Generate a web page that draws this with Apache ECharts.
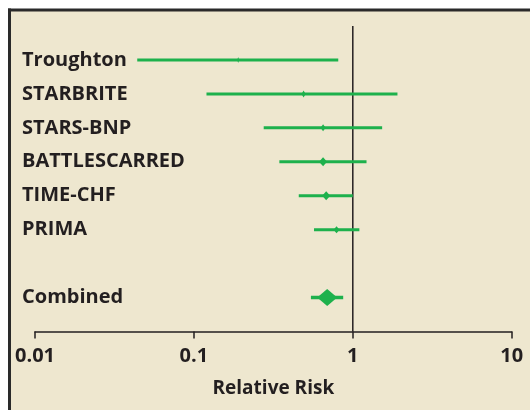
<!DOCTYPE html>
<html>
<head>
<meta charset="utf-8">
<script src="https://cdn.jsdelivr.net/npm/echarts@6/dist/echarts.min.js"></script>
<style>
  html, body { margin: 0; padding: 0; background: #ffffff; overflow: hidden; }
  #chart { width: 530px; height: 410px; }
</style>
</head>
<body>
<div id="chart"></div>
<script>
// Individual trials: relative risk with 95% confidence limits
const studies = ['Troughton', 'STARBRITE', 'STARS-BNP', 'BATTLESCARRED', 'TIME-CHF', 'PRIMA'];
const relativeRisk = [0.19, 0.49, 0.65, 0.65, 0.68, 0.79];
const lowerCI = [0.044, 0.12, 0.275, 0.345, 0.457, 0.57];
const upperCI = [0.81, 1.91, 1.53, 1.22, 1.0, 1.10];

// Pooled estimate
const combinedLabel = 'Combined';
const combinedRR = [0.69];
const combinedLower = [0.545];
const combinedUpper = [0.87];

// Log-scale axis ticks
const xTicks = [0.01, 0.1, 1, 10];
const axisTitle = 'Relative Risk';

// Marker half-sizes (width, height) for each study point, then the pooled diamond
const markerHalf = [[1, 3], [2, 3.5], [2.5, 3.5], [4, 4.5], [4, 4.5], [3, 3.5]];
const pooledHalf = [10, 8.5];

const INK = '#231f20';
const GREEN = '#1db14c';
const FONT = '"Open Sans", "DejaVu Sans", sans-serif';
const WEIGHT = 'bold';

// Category rows: blank row on top, studies, spacer, pooled row, blank row at the axis
const rows = [''].concat(studies, [''], [combinedLabel], ['']);

const intervalData = studies.map((s, i) => [lowerCI[i], upperCI[i], relativeRisk[i], i + 1, 0, i]);
combinedRR.forEach((v, j) => {
  intervalData.push([combinedLower[j], combinedUpper[j], v, rows.indexOf(combinedLabel), 1, j]);
});

// Confidence interval as a horizontal bar with a diamond at the point estimate
function renderInterval(params, api) {
  const row = api.value(3);
  const lo = api.coord([api.value(0), row]);
  const hi = api.coord([api.value(1), row]);
  const pt = api.coord([api.value(2), row]);
  const pooled = api.value(4) === 1;
  const half = pooled ? pooledHalf : markerHalf[api.value(5)];
  return {
    type: 'group',
    children: [
      {
        type: 'line',
        shape: { x1: lo[0], y1: lo[1], x2: hi[0], y2: hi[1] },
        style: { stroke: GREEN, lineWidth: pooled ? 3.5 : 3 }
      },
      {
        type: 'polygon',
        shape: {
          points: [
            [pt[0] - half[0], pt[1]],
            [pt[0], pt[1] - half[1]],
            [pt[0] + half[0], pt[1]],
            [pt[0], pt[1] + half[1]]
          ]
        },
        style: { fill: GREEN }
      }
    ]
  };
}

const chart = echarts.init(document.getElementById('chart'), null, { renderer: 'canvas' });

chart.setOption({
  backgroundColor: '#ffffff',
  animation: false,
  graphic: [
    {
      // panel fill, running off the right and bottom edges
      type: 'rect', z: -10, silent: true,
      shape: { x: 9, y: 10, width: 530, height: 410 },
      style: { fill: '#eee7cf' }
    },
    {
      type: 'line', z: -9, silent: true,
      shape: { x1: 8, y1: 10, x2: 540, y2: 10 },
      style: { stroke: '#2a2a2a', lineWidth: 3 }
    },
    {
      type: 'line', z: -9, silent: true,
      shape: { x1: 9.5, y1: 8.5, x2: 9.5, y2: 420 },
      style: { stroke: '#2a2a2a', lineWidth: 3 }
    }
  ],
  grid: { left: 35, right: 18.3, top: 26, bottom: 78.5, containLabel: false },
  xAxis: {
    type: 'log',
    logBase: 10,
    min: xTicks[0],
    max: xTicks[xTicks.length - 1],
    name: axisTitle,
    nameLocation: 'middle',
    nameGap: 48,
    nameTextStyle: { color: INK, fontFamily: FONT, fontWeight: WEIGHT, fontSize: 19 },
    axisLine: { show: true, lineStyle: { color: INK, width: 1.5 } },
    axisTick: { show: true, inside: false, length: 7, lineStyle: { color: INK, width: 1.5 } },
    axisLabel: {
      color: INK, fontFamily: FONT, fontWeight: WEIGHT, fontSize: 20, margin: 15,
      formatter: v => String(v)
    },
    splitLine: { show: false }
  },
  yAxis: {
    type: 'category',
    inverse: true,
    boundaryGap: false,
    data: rows,
    axisLine: { show: false },
    axisTick: { show: false },
    splitLine: { show: false },
    axisLabel: {
      color: INK, fontFamily: FONT, fontWeight: WEIGHT, fontSize: 20,
      align: 'left', margin: 13, interval: 0
    }
  },
  series: [
    {
      // line of no effect at RR = 1
      type: 'line',
      data: [[1, 0], [1, rows.length - 1]],
      symbol: 'none',
      lineStyle: { color: INK, width: 1.5 },
      z: 1,
      silent: true
    },
    {
      type: 'custom',
      renderItem: renderInterval,
      encode: { x: [0, 1, 2], y: 3 },
      data: intervalData,
      z: 3
    }
  ]
});
</script>
</body>
</html>
